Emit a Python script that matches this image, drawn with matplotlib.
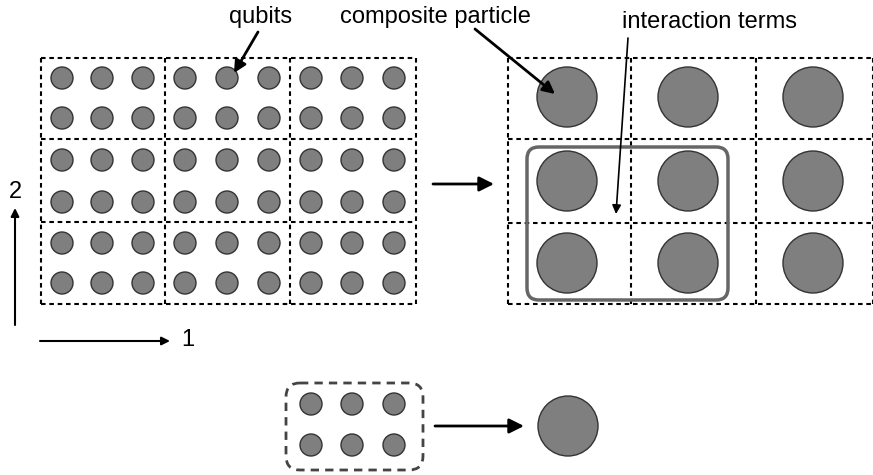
import numpy as np
import matplotlib
matplotlib.use("Agg")
from matplotlib import pyplot
from matplotlib.patches import Circle, FancyBboxPatch

# Figure size in pixels
WIDTH, HEIGHT = 873, 475

# Left lattice (qubits): block edges and qubit centres
left_x_edges = [41, 165, 290, 416]
left_y_edges = [58, 139, 222, 304]
qubit_x = [62, 102, 143, 185, 227, 269, 311, 352, 394]
qubit_y = [78, 118, 160, 202, 243, 283]
qubit_r = 11

# Right lattice (composite particles)
right_x_edges = [508, 631, 756, 873]
right_y_edges = [58, 139, 223, 304]
particle_x = [567, 688, 813]
particle_y = [97, 181, 263]
particle_r = 30

# Bottom legend: one block of qubits -> one particle
block_x = [311, 352, 394]
block_y = [404, 445]
block_box = (286, 383, 423, 470)
single_particle = (568, 426)

labels = ["qubits", "composite particle", "interaction terms"]
label_pos = [(261, 17), (435, 17), (710, 22)]

FILL = "#7f7f7f"
EDGE = "#333333"
FONT = ["Liberation Sans", "DejaVu Sans"]

fig = pyplot.figure(figsize=(WIDTH / 100, HEIGHT / 100), dpi=100)
ax = fig.add_axes([0, 0, 1, 1])
ax.set_xlim(0, WIDTH)
ax.set_ylim(HEIGHT, 0)
ax.axis("off")

dash = dict(color="black", lw=1.5, linestyle=(0, (2.2, 1.8)))


def grid(x_edges, y_edges):
    for x in x_edges:
        ax.plot([x, x], [y_edges[0], y_edges[-1]], **dash)
    for y in y_edges:
        ax.plot([x_edges[0], x_edges[-1]], [y, y], **dash)


def dot(x, y, r, lw=1.0):
    ax.add_patch(Circle((x, y), r, facecolor=FILL, edgecolor=EDGE, lw=lw, zorder=3))


def arrow(start, end, lw=2.0, head=22):
    ax.annotate("", xy=end, xytext=start,
                arrowprops=dict(arrowstyle="-|>", color="black", lw=lw,
                                mutation_scale=head, shrinkA=0, shrinkB=0),
                zorder=5)


grid(left_x_edges, left_y_edges)
for x in qubit_x:
    for y in qubit_y:
        dot(x, y, qubit_r)

grid(right_x_edges, right_y_edges)
for x in particle_x:
    for y in particle_y:
        dot(x, y, particle_r)

# solid rounded box around the 2x2 particles
ax.add_patch(FancyBboxPatch((527, 147), 201, 153,
                            boxstyle="round,pad=0,rounding_size=12",
                            facecolor="none", edgecolor="#666666", lw=2.5, zorder=4))

# dashed rounded box around six qubits
bx0, by0, bx1, by1 = block_box
ax.add_patch(FancyBboxPatch((bx0, by0), bx1 - bx0, by1 - by0,
                            boxstyle="round,pad=0,rounding_size=14",
                            facecolor="none", edgecolor="#444444", lw=2,
                            linestyle=(0, (3, 2.2)), zorder=4))
for x in block_x:
    for y in block_y:
        dot(x, y, qubit_r)
dot(*single_particle, particle_r)

# arrows
arrow((433, 184), (494, 184))
arrow((435, 426), (524, 426))
arrow((258, 32), (234, 73), lw=2, head=18)
arrow((475, 29), (555, 94), lw=2, head=18)
arrow((628, 38), (616, 214), lw=1.2, head=13)
arrow((15, 325), (15, 208), lw=1.5, head=12)
arrow((40, 341), (170, 341), lw=1.5, head=12)

for text, (x, y) in zip(labels, label_pos):
    ax.text(x, y, text, ha="center", va="center", fontsize=17, family=FONT)
ax.text(15, 192, "2", ha="center", va="center", fontsize=17, family=FONT)
ax.text(188, 340, "1", ha="center", va="center", fontsize=17, family=FONT)

fig.savefig("out.png", dpi=100)
